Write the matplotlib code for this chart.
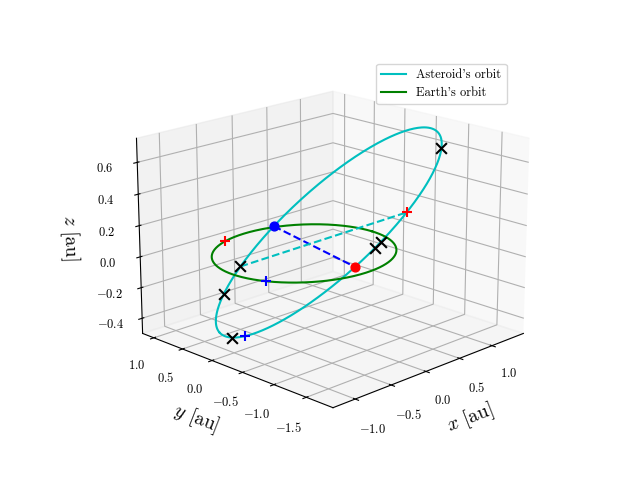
import numpy as np
import matplotlib
matplotlib.use("Agg")
import matplotlib.pyplot as plt

plt.rcParams["font.family"] = "serif"
plt.rcParams["font.serif"] = ["cmr10"]
plt.rcParams["mathtext.fontset"] = "cm"
plt.rcParams["axes.formatter.use_mathtext"] = True

# orbital elements of the asteroid
a_ast = 1.35
e_ast = 0.215
inc_deg = 25.0
node_deg = 240.0
peri_deg = 275.0

# true anomalies of marked asteroid positions [deg]
nu_cross = [160, 108, 111, 295, 315, 20]
nu_blue_dot = 270.0
nu_red_dot = 98.0
nu_red_plus = 125.0
nu_blue_plus = 33.0
nu_cyan_line = [295.0, 125.0]
# Earth positions (heliocentric longitude, deg)
earth_red_plus = 110.0
earth_blue_plus = 205.0

ang = np.radians(np.linspace(0, 360, 400))


def ast_pos(nu_deg):
    nu = np.radians(np.asarray(nu_deg, dtype=float))
    i, W, w = np.radians([inc_deg, node_deg, peri_deg])
    r = a_ast * (1 - e_ast**2) / (1 + e_ast * np.cos(nu))
    u = w + nu
    x = r * (np.cos(W) * np.cos(u) - np.sin(W) * np.sin(u) * np.cos(i))
    y = r * (np.sin(W) * np.cos(u) + np.cos(W) * np.sin(u) * np.cos(i))
    z = r * np.sin(u) * np.sin(i)
    return x, y, z


def earth_pos(lon_deg):
    t = np.radians(lon_deg)
    return [np.cos(t)], [np.sin(t)], [0.0]


fig = plt.figure(figsize=(6.4, 4.8))
ax = fig.add_subplot(projection="3d")
ax.view_init(elev=18, azim=-135)
ax.set_box_aspect(None, zoom=1.15)

xa, ya, za = ast_pos(np.degrees(ang))
ax.plot(xa, ya, za, color="c", label="Asteroid's orbit")
ax.plot(np.cos(ang), np.sin(ang), np.zeros_like(ang), color="g", label="Earth's orbit")

bx, by, bz = ast_pos([nu_blue_dot, nu_red_dot])
ax.plot(bx, by, bz, "b--")
nx, ny, nz = ast_pos(nu_cyan_line)
ax.plot(nx, ny, nz, "c--")

cx, cy, cz = ast_pos(nu_cross)
ax.scatter(cx, cy, cz, marker="x", color="k", s=60, depthshade=False)
ax.scatter(*ast_pos([nu_blue_dot]), color="b", s=40, depthshade=False)
ax.scatter(*ast_pos([nu_red_dot]), color="r", s=40, depthshade=False)
ax.scatter(*ast_pos([nu_red_plus]), marker="+", color="r", s=60, depthshade=False)
ax.scatter(*earth_pos(earth_red_plus), marker="+", color="r", s=60, depthshade=False)
ax.scatter(*ast_pos([nu_blue_plus]), marker="+", color="b", s=60, depthshade=False)
ax.scatter(*earth_pos(earth_blue_plus), marker="+", color="b", s=60, depthshade=False)

ax.set_xlim(-1.3, 1.5)
ax.set_ylim(-1.9, 1.2)
ax.set_zlim(-0.5, 0.75)
ax.set_xticks([-1.0, -0.5, 0.0, 0.5, 1.0])
ax.set_yticks([-1.5, -1.0, -0.5, 0.0, 0.5, 1.0])
ax.set_zticks([-0.4, -0.2, 0.0, 0.2, 0.4, 0.6])
ax.tick_params(labelsize=9)
ax.set_xlabel("$x$ [au]", fontsize=14)
ax.set_ylabel("$y$ [au]", fontsize=14)
ax.set_zlabel("$z$ [au]", fontsize=14)
ax.legend(loc="upper right", fontsize=9)

plt.savefig("out.png", dpi=100)
